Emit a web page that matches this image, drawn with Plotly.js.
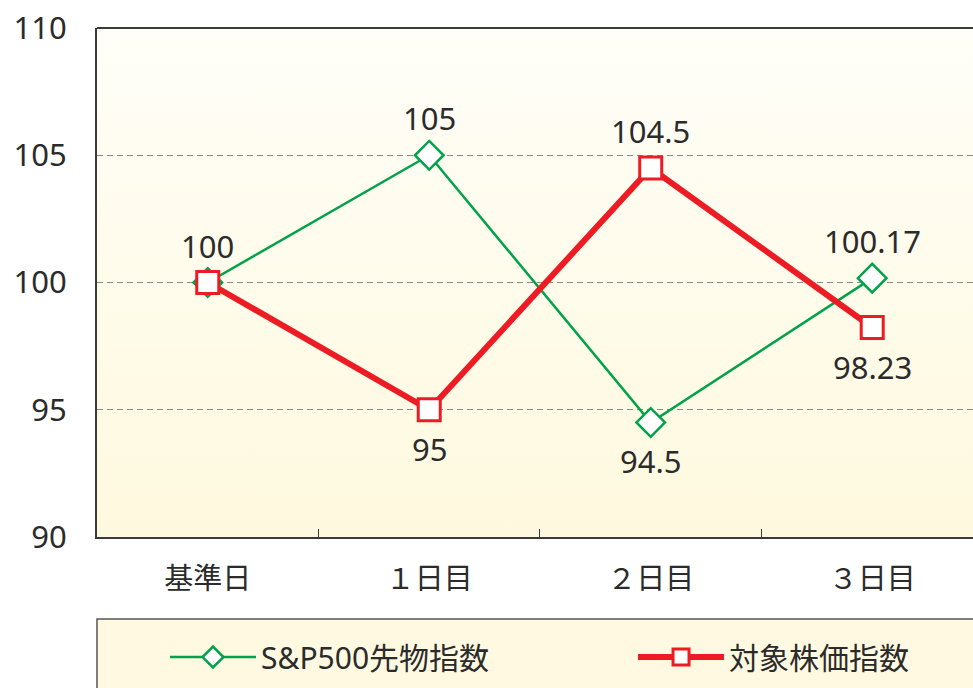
<!DOCTYPE html>
<html>
<head>
<meta charset="utf-8">
<script src="https://cdn.plot.ly/plotly-3.0.1.min.js"></script>
<style>html,body{margin:0;padding:0;background:#fff;}#chart{width:973px;height:688px;}</style>
</head>
<body>
<div id="chart"></div>
<script>
const categories = ["基準日", "１日目", "２日目", "３日目"];
const spValues = [100, 105, 94.5, 100.17];
const stockValues = [100, 95, 104.5, 98.23];
const spName = "S&P500先物指数";
const stockName = "対象株価指数";
const yTickValues = [90, 95, 100, 105, 110];
// which data labels sit above (+1) or below (-1) their point; 0 = no label
const spLabelSide = [0, 1, -1, 1];
const stockLabelSide = [1, -1, 1, -1];

const FONT = '"Noto Sans", "Noto Sans CJK JP", sans-serif';
const TXT = '#2b2b2b';

const grad = "data:image/svg+xml;charset=utf-8," + encodeURIComponent(
  "<svg xmlns='http://www.w3.org/2000/svg' width='10' height='100' preserveAspectRatio='none'>" +
  "<defs><linearGradient id='g' x1='0' y1='0' x2='0' y2='1'>" +
  "<stop offset='0' stop-color='#fffef8'/><stop offset='1' stop-color='#fef9de'/>" +
  "</linearGradient></defs><rect width='10' height='100' fill='url(#g)'/></svg>");

function labels(values, sides) {
  const out = [];
  values.forEach((v, i) => {
    if (!sides[i]) return;
    out.push({
      x: categories[i], y: v, xref: 'x', yref: 'y', text: String(v), showarrow: false,
      yshift: sides[i] > 0 ? 37 : -39, xanchor: 'center', yanchor: 'middle',
      font: {family: FONT, size: 31, color: TXT}
    });
  });
  return out;
}

const traces = [
  {
    x: categories, y: spValues, name: spName, type: 'scatter', mode: 'lines+markers',
    line: {color: '#00a24a', width: 2.5},
    marker: {symbol: 'diamond', size: 22, color: '#ffffff', line: {color: '#00a24a', width: 2.5}},
    cliponaxis: false, hoverinfo: 'x+y', legend: 'legend'
  },
  {
    x: categories, y: stockValues, name: stockName, type: 'scatter', mode: 'lines+markers',
    line: {color: '#ed1c24', width: 6},
    marker: {symbol: 'square', size: 22, color: '#ffffff', line: {color: '#ed1c24', width: 3}},
    cliponaxis: false, hoverinfo: 'x+y', legend: 'legend2'
  }
];

const legendCommon = {
  orientation: 'h', xanchor: 'left', y: -0.2358, yanchor: 'middle',
  bgcolor: 'rgba(0,0,0,0)', borderwidth: 0,
  font: {family: FONT, size: 30, color: TXT},
  itemwidth: 86,
  itemclick: false, itemdoubleclick: false
};

const layout = {
  width: 973, height: 688,
  margin: {l: 97, r: 0, t: 28, b: 151, pad: 0},
  paper_bgcolor: '#ffffff',
  plot_bgcolor: '#fffcea',
  font: {family: FONT, size: 29, color: TXT},
  showlegend: true,
  xaxis: {
    type: 'category', range: [-0.5, 3.455], fixedrange: true,
    showline: true, linecolor: '#3a3a3a', linewidth: 2, mirror: false,
    ticks: 'inside', tickson: 'boundaries', ticklen: 8, tickcolor: '#3a3a3a', tickwidth: 1,
    showgrid: false, zeroline: false,
    tickfont: {family: FONT, size: 29, color: TXT},
    ticklabelstandoff: 15
  },
  yaxis: {
    range: [90, 110], tickvals: yTickValues, fixedrange: true,
    showline: true, linecolor: '#3a3a3a', linewidth: 2,
    ticks: '', showgrid: true, gridcolor: '#8a8a8a', gridwidth: 1, griddash: '6px,4px',
    zeroline: false,
    tickfont: {family: FONT, size: 31, color: TXT},
    ticklabelstandoff: 22
  },
  images: [{
    source: grad, xref: 'paper', yref: 'paper', x: 0, y: 1, sizex: 1, sizey: 1,
    xanchor: 'left', yanchor: 'top', sizing: 'stretch', layer: 'below'
  }],
  shapes: [
    {type: 'line', xref: 'paper', yref: 'paper', x0: 0, x1: 1.02, y0: 1, y1: 1,
     line: {color: '#3a3a3a', width: 2}},
    {type: 'rect', xref: 'paper', yref: 'paper', x0: 0, x1: 1.05, y0: -0.1611, y1: -0.35,
     fillcolor: '#fef9e0', line: {color: '#555555', width: 1.5}, layer: 'below'}
  ],
  annotations: labels(spValues, spLabelSide).concat(labels(stockValues, stockLabelSide)),
  legend: Object.assign({}, legendCommon, {x: 0.0776}),
  legend2: Object.assign({}, legendCommon, {x: 0.6119})
};

Plotly.newPlot('chart', traces, layout, {displayModeBar: false, staticPlot: true});
</script>
</body>
</html>
